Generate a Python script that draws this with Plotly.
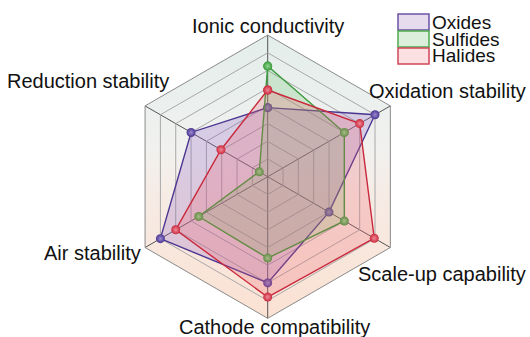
import numpy as np
import plotly.graph_objects as go

# ---------------- data ----------------
categories = ["Ionic conductivity", "Oxidation stability", "Scale-up capability",
              "Cathode compatibility", "Air stability", "Reduction stability"]
series_names = ["Oxides", "Sulfides", "Halides"]
oxides = [3.9, 7.0, 4.0, 6.0, 7.0, 5.0]
sulfides = [6.25, 5.0, 5.0, 4.6, 4.5, 0.55]
halides = [4.9, 6.0, 6.95, 6.8, 6.0, 3.05]
r_max = 8

# ---------------- styles ----------------
W, H = 530, 337
line_colors = {"Oxides": "#4a3591", "Sulfides": "#3b9a3b", "Halides": "#c92a3d"}
marker_hi = {"Oxides": "#9c8cd0", "Sulfides": "#93d893", "Halides": "#f08a98"}
fill_colors = {"Oxides": "rgba(140,95,195,0.25)", "Sulfides": "rgba(90,190,90,0.22)",
               "Halides": "rgba(240,95,110,0.24)"}
legend_fill = {"Oxides": "#e6dcee", "Sulfides": "#dcefdc", "Halides": "#fde1e2"}
legend_line = {"Oxides": "#6b52a6", "Sulfides": "#4eac4e", "Halides": "#d24657"}

cx, cy, R = 267.7, 176.7, 141.6  # pixel geometry of the radar
dom_x = [(cx - R) / W, (cx + R) / W]
dom_y = [(H - cy - R) / H, (H - cy + R) / H]

fig = go.Figure()

# gradient background hexagon (cartesian overlay behind polar)
ang = np.deg2rad(90 - 60 * np.arange(7))
fig.add_trace(go.Scatter(
    x=np.cos(ang), y=np.sin(ang), mode="lines", line=dict(width=0),
    fill="toself",
    fillgradient=dict(type="vertical",
                      colorscale=[[0, "#fbe1d2"], [0.45, "#f6ece6"], [0.6, "#f1f1ef"], [1, "#e3eeeb"]]),
    hoverinfo="skip", showlegend=False))

for name, vals in zip(series_names, [oxides, sulfides, halides]):
    fig.add_trace(go.Scatterpolar(
        r=vals + vals[:1], theta=categories + categories[:1],
        mode="lines+markers", name=name, fill="toself",
        fillcolor=fill_colors[name],
        line=dict(color=line_colors[name], width=1.4),
        marker=dict(size=9, color=line_colors[name],
                    gradient=dict(type="radial", color=marker_hi[name]),
                    line=dict(width=0)),
        showlegend=False))

fig.update_layout(
    width=W, height=H, margin=dict(l=0, r=0, t=0, b=0),
    paper_bgcolor="white", plot_bgcolor="rgba(0,0,0,0)",
    font=dict(family="Liberation Sans, Arial, sans-serif", color="#111"),
    xaxis=dict(domain=dom_x, range=[-1, 1], visible=False, fixedrange=True),
    yaxis=dict(domain=dom_y, range=[-1, 1], visible=False, fixedrange=True),
    polar=dict(
        domain=dict(x=dom_x, y=dom_y),
        bgcolor="rgba(0,0,0,0)",
        gridshape="linear",
        radialaxis=dict(range=[0, r_max], dtick=1, showticklabels=False, ticks="",
                        showline=False, gridcolor="#a8a8a8", gridwidth=0.8),
        angularaxis=dict(rotation=90, direction="clockwise", showticklabels=False,
                         ticks="", linecolor="#8a8a8a", linewidth=1,
                         gridcolor="#555555", gridwidth=0.9),
    ),
)

# axis labels as annotations (pixel positions -> paper)
label_pos = {
    "Ionic conductivity": (268, 26),
    "Oxidation stability": (447, 91),
    "Scale-up capability": (442, 274),
    "Cathode compatibility": (274, 327),
    "Air stability": (92, 253),
    "Reduction stability": (88, 81),
}
for lab in categories:
    px, py = label_pos[lab]
    fig.add_annotation(x=px / W, y=1 - py / H, xref="paper", yref="paper",
                       text=lab, showarrow=False, xanchor="center", yanchor="middle",
                       borderpad=0, font=dict(size=20, color="#111"))

# custom legend
rows = [(14, 30), (31, 47), (48, 64)]
for name, (y0, y1) in zip(series_names, rows):
    fig.add_shape(type="rect", xref="paper", yref="paper",
                  x0=398 / W, x1=429 / W, y0=1 - y1 / H, y1=1 - y0 / H,
                  fillcolor=legend_fill[name], line=dict(color=legend_line[name], width=1.5))
    fig.add_annotation(x=431 / W, y=1 - ((y0 + y1) / 2) / H, xref="paper", yref="paper",
                       text=name, showarrow=False, xanchor="left", yanchor="middle",
                       borderpad=0, font=dict(size=19, color="#111"))

fig.write_html("out.html", config={"displayModeBar": False},
               post_script="document.body.style.margin='0';document.body.style.overflow='hidden';")
